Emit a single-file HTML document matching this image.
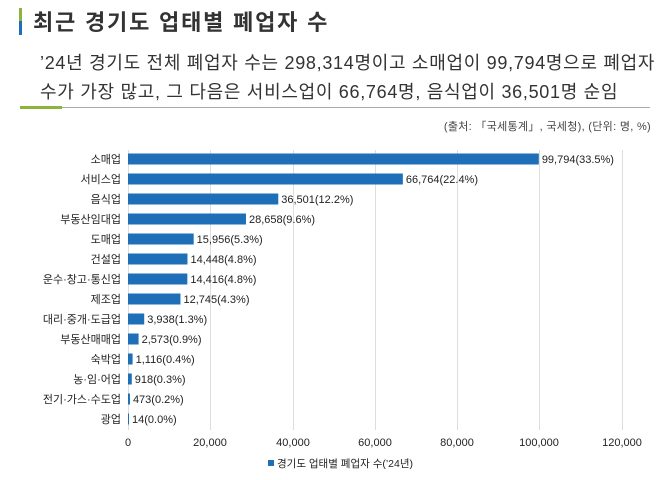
<!DOCTYPE html>
<html><head><meta charset="utf-8"><style>
body{margin:0;width:671px;height:480px;background:#fff;font-family:"Liberation Sans","Noto Sans CJK KR",sans-serif;color:#333;position:relative;overflow:hidden}
.a{position:absolute;white-space:nowrap}
</style></head><body>
<div class="a" style="left:19px;top:8px;width:3px;height:13px;background:#8db33a"></div>
<div class="a" style="left:19px;top:21px;width:3px;height:14px;background:#1f6fb8"></div>
<div class="a" style="left:33px;top:5px;font-size:22px;font-weight:bold;color:#333;letter-spacing:1.8px">최근 경기도 업태별 폐업자 수</div>
<div class="a" style="left:40px;top:49px;font-size:18px;color:#333;letter-spacing:0.7px">’24년 경기도 전체 폐업자 수는 298,314명이고 소매업이 99,794명으로 폐업자</div>
<div class="a" style="left:40px;top:78px;font-size:18px;color:#333;letter-spacing:0.7px">수가 가장 많고, 그 다음은 서비스업이 66,764명, 음식업이 36,501명 순임</div>
<div class="a" style="left:20px;top:107px;width:630px;height:1px;background:#aaa"></div>
<div class="a" style="left:20px;top:106px;width:42px;height:3px;background:#8db33a"></div>
<div class="a" style="right:20px;top:118px;font-size:11px;color:#444;letter-spacing:0.3px">(출처: 「국세통계」, 국세청), (단위: 명, %)</div>
<svg class="a" style="left:0;top:0" width="671" height="480" font-family="Liberation Sans, Noto Sans CJK KR, sans-serif" font-size="11" fill="#222">
<g stroke="#ddd" stroke-width="1">
<line x1="128.5" y1="150" x2="128.5" y2="430"/><line x1="210.5" y1="150" x2="210.5" y2="430"/><line x1="293.5" y1="150" x2="293.5" y2="430"/><line x1="375.5" y1="150" x2="375.5" y2="430"/><line x1="457.5" y1="150" x2="457.5" y2="430"/><line x1="539.5" y1="150" x2="539.5" y2="430"/><line x1="622.5" y1="150" x2="622.5" y2="430"/>
</g>
<g text-anchor="middle">
<text x="128" y="446">0</text><text x="210" y="446">20,000</text><text x="293" y="446">40,000</text><text x="375" y="446">60,000</text><text x="457" y="446">80,000</text><text x="539" y="446">100,000</text><text x="622" y="446">120,000</text>
</g>
<g id="b"></g>
<rect x="268" y="460" width="6" height="6" fill="#1f6fb8"/>
<text x="277" y="467" font-size="10.5">경기도 업태별 폐업자 수(’24년)</text>
</svg>
<script>
var d=[["소매업",99794,"33.5"],["서비스업",66764,"22.4"],["음식업",36501,"12.2"],["부동산임대업",28658,"9.6"],["도매업",15956,"5.3"],["건설업",14448,"4.8"],["운수·창고·통신업",14416,"4.8"],["제조업",12745,"4.3"],["대리·중개·도급업",3938,"1.3"],["부동산매매업",2573,"0.9"],["숙박업",1116,"0.4"],["농·임·어업",918,"0.3"],["전기·가스·수도업",473,"0.2"],["광업",14,"0.0"]];
var s="";d.forEach(function(r,i){var y=159+i*20;var w=Math.max(r[1]*494/120000,1);
s+='<rect x="128" y="'+(y-5.5)+'" width="'+w+'" height="11" fill="#1f6fb8"/>';
s+='<text x="121" y="'+(y+4)+'" text-anchor="end">'+r[0]+'</text>';
s+='<text x="'+(128+w+3)+'" y="'+(y+4)+'">'+r[1].toLocaleString("en-US")+'('+r[2]+'%)</text>';});
document.getElementById("b").innerHTML=s;
</script>
</body></html>
